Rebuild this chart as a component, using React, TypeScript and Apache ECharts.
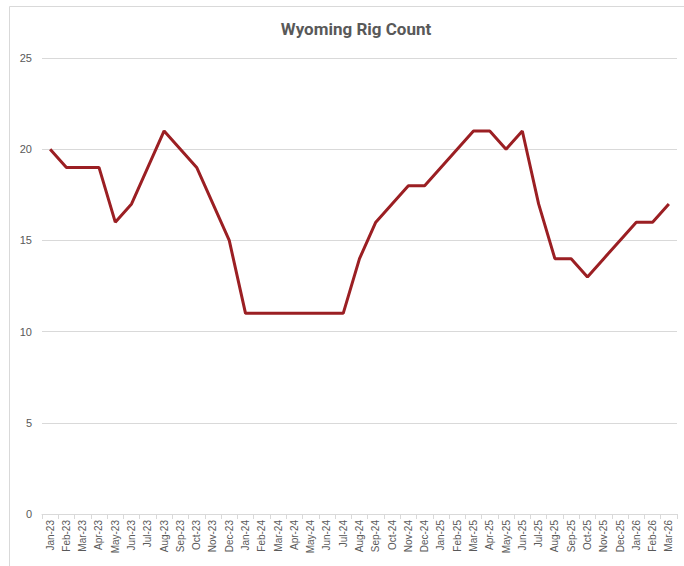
import React, { useEffect, useRef } from "react";
import * as echarts from "echarts";

const categories = [
  "Jan-23","Feb-23","Mar-23","Apr-23","May-23","Jun-23","Jul-23","Aug-23","Sep-23","Oct-23","Nov-23","Dec-23",
  "Jan-24","Feb-24","Mar-24","Apr-24","May-24","Jun-24","Jul-24","Aug-24","Sep-24","Oct-24","Nov-24","Dec-24",
  "Jan-25","Feb-25","Mar-25","Apr-25","May-25","Jun-25","Jul-25","Aug-25","Sep-25","Oct-25","Nov-25","Dec-25",
  "Jan-26","Feb-26","Mar-26",
];

const rigCount = [
  20, 19, 19, 19, 16, 17, 19, 21, 20, 19, 17, 15,
  11, 11, 11, 11, 11, 11, 11, 14, 16, 17, 18, 18,
  19, 20, 21, 21, 20, 21, 17, 14, 14, 13, 14, 15,
  16, 16, 17,
];

const yTicks = { min: 0, max: 25, interval: 5 };

export default function App() {
  const ref = useRef<HTMLDivElement>(null);
  useEffect(() => {
    if (!ref.current) return;
    const chart = echarts.init(ref.current, null, { renderer: "svg" });
    chart.setOption({
      animation: false,
      backgroundColor: "#ffffff",
      graphic: [
        {
          type: "rect",
          shape: { x: 9.5, y: 6.5, width: 700, height: 600 },
          style: { fill: "none", stroke: "#d9d9d9", lineWidth: 1 },
          silent: true,
        },
      ],
      title: {
        text: "Wyoming Rig Count",
        left: 351,
        textAlign: "center",
        top: 15,
        textStyle: {
          fontFamily: "'Liberation Sans Narrow', 'Roboto', sans-serif",
          fontSize: 17,
          fontWeight: "bold",
          color: "#595959",
        },
      },
      grid: { left: 42, right: 7, top: 58, bottom: 52, containLabel: false },
      xAxis: {
        type: "category",
        data: categories,
        boundaryGap: true,
        axisLine: { lineStyle: { color: "#d9d9d9", width: 1 } },
        axisTick: { show: true, length: 5, lineStyle: { color: "#d9d9d9" } },
        axisLabel: {
          rotate: 90,
          interval: 0,
          fontSize: 10,
          color: "#595959",
          fontFamily: "'Liberation Sans', Arial, sans-serif",
          margin: 6,
        },
      },
      yAxis: {
        type: "value",
        min: yTicks.min,
        max: yTicks.max,
        interval: yTicks.interval,
        axisLine: { show: false },
        axisTick: { show: false },
        splitLine: { lineStyle: { color: "#d9d9d9", width: 1 } },
        axisLabel: {
          fontSize: 11,
          color: "#595959",
          fontFamily: "'Liberation Sans', Arial, sans-serif",
          margin: 10,
        },
      },
      series: [
        {
          type: "line",
          data: rigCount,
          symbol: "none",
          lineStyle: { color: "#9b1f23", width: 3 },
          itemStyle: { color: "#9b1f23" },
        },
      ],
    });
    return () => chart.dispose();
  }, []);
  return (
    <div
      ref={ref}
      style={{ position: "absolute", left: 0, top: 0, width: 684, height: 566 }}
    />
  );
}
